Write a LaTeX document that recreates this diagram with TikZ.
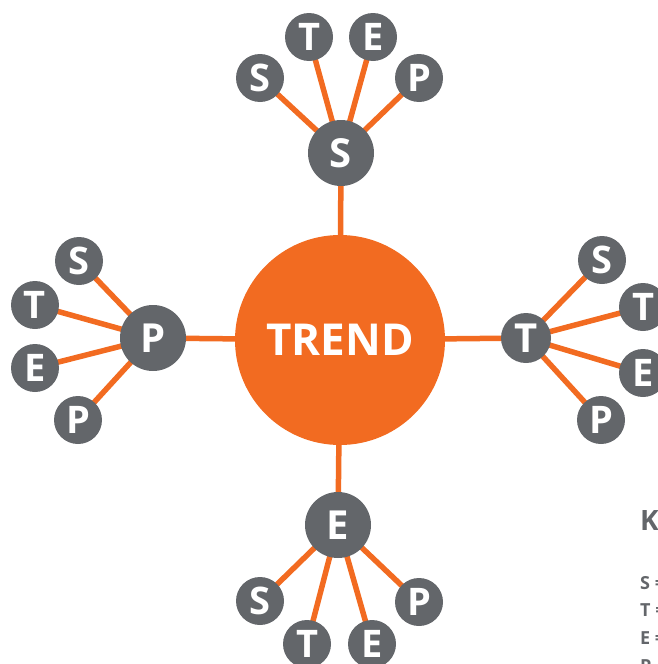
\documentclass[tikz,border=0pt]{standalone}
\usepackage{fontspec}
\setmainfont{Open Sans}
\usetikzlibrary{backgrounds}
\definecolor{trendorange}{HTML}{F26B21}
\definecolor{stepgray}{HTML}{63666A}
\begin{document}
\begin{tikzpicture}[x=1pt,y=-1pt,
  core/.style={circle,fill=trendorange,minimum size=210pt,inner sep=0pt,
    text=white,font=\fontsize{44}{44}\selectfont\bfseries},
  hub/.style={circle,fill=stepgray,minimum size=66pt,inner sep=0pt,
    text=white,font=\fontsize{40}{40}\selectfont\bfseries},
  smallhub/.style={hub,minimum size=50pt},
  leaf/.style={circle,fill=stepgray,minimum size=48pt,inner sep=0pt,
    text=white,font=\fontsize{38}{38}\selectfont\bfseries},
  link/.style={draw=trendorange,line width=5.5pt},
  keyhead/.style={anchor=base west,inner sep=0pt,text=stepgray,
    font=\fontsize{28}{28}\selectfont\bfseries},
  keyline/.style={anchor=base west,inner sep=0pt,text=stepgray,
    font=\fontsize{18}{18}\selectfont\bfseries}]
\useasboundingbox (0,0) rectangle (658,664);
\clip (0,0) rectangle (658,664);

% centre
\node[core] (trend) at (340,340) {TREND};

% upper branch
\node[hub]  (ts)  at (341,153) {S};
\node[leaf] (tsS) at (260,78)  {S};
\node[leaf] (tsT) at (309,37)  {T};
\node[leaf] (tsE) at (373,37)  {E};
\node[leaf] (tsP) at (419,78)  {P};

% left branch
\node[hub]  (lp)  at (153,338) {P};
\node[leaf] (lpS) at (79,261)  {S};
\node[leaf] (lpT) at (35,305)  {T};
\node[leaf] (lpE) at (35,368)  {E};
\node[leaf] (lpP) at (78,420)  {P};

% right branch
\node[smallhub] (rt)  at (526,338) {T};
\node[leaf] (rtS) at (602,260) {S};
\node[leaf] (rtT) at (643,307) {T};
\node[leaf] (rtE) at (643,373) {E};
\node[leaf] (rtP) at (601,420) {P};

% lower branch
\node[hub]  (be)  at (338,525) {E};
\node[leaf] (beS) at (260,601) {S};
\node[leaf] (beT) at (307,644) {T};
\node[leaf] (beE) at (372,644) {E};
\node[leaf] (beP) at (419,602) {P};

% connectors behind the discs
\begin{scope}[on background layer]
  \foreach \h in {ts,lp,rt,be}
    \draw[link] (trend.center) -- (\h.center);
  \foreach \h in {ts,lp,rt,be}
    \foreach \l in {S,T,E,P}
      \draw[link] (\h.center) -- (\h\l.center);
\end{scope}

% key
\node[keyhead] (key)  at (640,530) {K};
\node[keyline] (keyS) at (640,589) {S =};
\node[keyline] (keyT) at (640,616) {T =};
\node[keyline] (keyE) at (640,644) {E =};
\node[keyline] (keyP) at (640,672) {P};
\end{tikzpicture}
\end{document}
